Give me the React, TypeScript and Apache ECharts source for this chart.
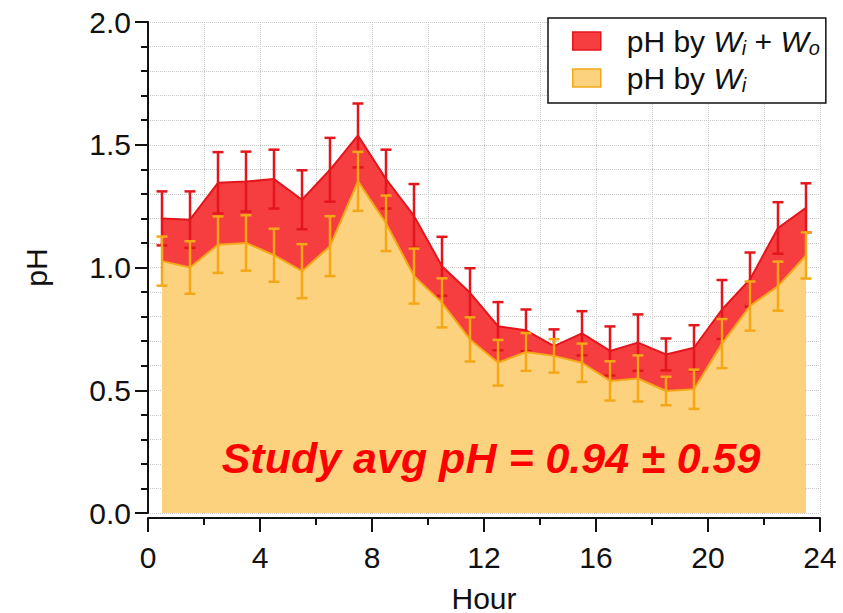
import React, { useEffect, useRef } from "react";
import * as echarts from "echarts";

const hours = [0.5, 1.5, 2.5, 3.5, 4.5, 5.5, 6.5, 7.5, 8.5, 9.5, 10.5, 11.5, 12.5, 13.5, 14.5, 15.5, 16.5, 17.5, 18.5, 19.5, 20.5, 21.5, 22.5, 23.5];
const phWiWo = [1.2, 1.195, 1.345, 1.35, 1.36, 1.276, 1.398, 1.538, 1.36, 1.21, 1.005, 0.897, 0.761, 0.744, 0.68, 0.732, 0.66, 0.694, 0.646, 0.673, 0.829, 0.951, 1.161, 1.243];
const errWiWo = [0.11, 0.115, 0.125, 0.122, 0.12, 0.12, 0.13, 0.13, 0.12, 0.13, 0.12, 0.1, 0.098, 0.085, 0.068, 0.09, 0.1, 0.115, 0.065, 0.092, 0.12, 0.11, 0.105, 0.1];
const phWi = [1.026, 1.0, 1.093, 1.1, 1.05, 0.985, 1.087, 1.351, 1.18, 0.965, 0.856, 0.707, 0.612, 0.656, 0.64, 0.612, 0.538, 0.548, 0.497, 0.504, 0.69, 0.843, 0.924, 1.049];
const errWi = [0.1, 0.107, 0.115, 0.113, 0.108, 0.11, 0.122, 0.12, 0.113, 0.112, 0.1, 0.09, 0.093, 0.077, 0.068, 0.078, 0.08, 0.094, 0.058, 0.08, 0.1, 0.1, 0.1, 0.094];
const annotation = "Study avg pH = 0.94 ± 0.59";

const RED_LINE = "#e3161c";
const RED_AREA = "#f63d40";
const OR_LINE = "#f4a818";
const OR_AREA = "#fdd27f";
const FONT = "Liberation Sans, Arial, sans-serif";

function errSeries(name: string, vals: number[], errs: number[], color: string, z: number) {
  return {
    type: "custom",
    name,
    z,
    silent: true,
    data: hours.map((h, i) => [h, vals[i], errs[i]]),
    encode: { x: 0, y: 1 },
    renderItem: (params: any, api: any) => {
      const x = api.value(0);
      const y = api.value(1);
      const e = api.value(2);
      const top = api.coord([x, y + e]);
      const bot = api.coord([x, y - e]);
      const hw = 5.5;
      const style = { stroke: color, lineWidth: 2.5 };
      return {
        type: "group",
        children: [
          { type: "line", shape: { x1: top[0], y1: top[1], x2: bot[0], y2: bot[1] }, style },
          { type: "line", shape: { x1: top[0] - hw, y1: top[1], x2: top[0] + hw, y2: top[1] }, style },
          { type: "line", shape: { x1: bot[0] - hw, y1: bot[1], x2: bot[0] + hw, y2: bot[1] }, style },
        ],
      };
    },
  };
}

export default function App() {
  const ref = useRef<HTMLDivElement>(null);
  useEffect(() => {
    if (!ref.current) return;
    const chart = echarts.init(ref.current, undefined, { renderer: "svg" });
    const gridLine = { show: true, lineStyle: { type: "dotted", color: "#c8c8c8", width: 1 } };
    const axisText = { fontSize: 30, color: "#111", fontFamily: FONT };
    const legendRich = {
      n: { fontSize: 30, fontFamily: FONT, color: "#111" },
      w: { fontSize: 30, fontFamily: FONT, fontStyle: "italic", color: "#111" },
      s: { fontSize: 20, fontFamily: FONT, fontStyle: "italic", color: "#111", padding: [14, 0, 0, 0] },
    };
    chart.setOption({
      animation: false,
      backgroundColor: "#fff",
      grid: { left: 148, right: 23, top: 22, bottom: 100, containLabel: false, outerBoundsMode: "none" },
      xAxis: {
        type: "value",
        min: 0,
        max: 24,
        interval: 4,
        offset: 5,
        axisLine: { show: true, onZero: false, lineStyle: { color: "#111", width: 2 } },
        axisTick: { show: true, length: 14, lineStyle: { color: "#111", width: 2 } },
        minorTick: { show: true, splitNumber: 2, length: 7, lineStyle: { color: "#111", width: 2 } },
        splitLine: gridLine,
        minorSplitLine: gridLine,
        axisLabel: { ...axisText, margin: 24 },
        name: "Hour",
        nameLocation: "middle",
        nameGap: 65,
        nameTextStyle: { ...axisText },
      },
      yAxis: {
        type: "value",
        min: 0,
        max: 2,
        interval: 0.5,
        offset: 3,
        axisLine: { show: true, lineStyle: { color: "#111", width: 2 } },
        axisTick: { show: true, length: 13, lineStyle: { color: "#111", width: 2 } },
        minorTick: { show: true, splitNumber: 5, length: 7, lineStyle: { color: "#111", width: 2 } },
        splitLine: gridLine,
        minorSplitLine: gridLine,
        axisLabel: { ...axisText, margin: 14, formatter: (v: number) => v.toFixed(1) },
        name: "pH",
        nameLocation: "middle",
        nameGap: 94,
        nameTextStyle: { ...axisText },
      },
      legend: {
        orient: "vertical",
        left: 548,
        top: 18,
        backgroundColor: "#fff",
        borderColor: "#111",
        borderWidth: 1.5,
        borderRadius: 0,
        padding: [8, 6, 8, 24],
        itemGap: 5,
        itemWidth: 28,
        itemHeight: 18,
        icon: "rect",
        textStyle: { rich: legendRich, padding: [0, 0, 0, 21] },
        formatter: (name: string) =>
          name === "wiwo" ? "{n|pH by }{w|W}{s|i}{n| + }{w|W}{s|o}" : "{n|pH by }{w|W}{s|i}",
        data: [
          { name: "wiwo", itemStyle: { color: RED_AREA, borderColor: RED_LINE, borderWidth: 1.5 } },
          { name: "wi", itemStyle: { color: OR_AREA, borderColor: OR_LINE, borderWidth: 1.5 } },
        ],
      },
      graphic: [
        {
          type: "text",
          z: 100,
          x: 491,
          y: 458,
          style: {
            text: annotation,
            fill: "#ff0000",
            font: `italic bold 43px ${FONT}`,
            textAlign: "center",
            textVerticalAlign: "middle",
          },
        },
      ],
      series: [
        {
          type: "line",
          name: "wiwo",
          z: 1,
          data: hours.map((h, i) => [h, phWiWo[i]]),
          symbol: "none",
          lineStyle: { color: RED_LINE, width: 2 },
          itemStyle: { color: RED_AREA },
          areaStyle: { color: RED_AREA, opacity: 1 },
        },
        errSeries("wiwoErr", phWiWo, errWiWo, RED_LINE, 2),
        {
          type: "line",
          name: "wi",
          z: 3,
          data: hours.map((h, i) => [h, phWi[i]]),
          symbol: "none",
          lineStyle: { color: OR_LINE, width: 2 },
          itemStyle: { color: OR_AREA },
          areaStyle: { color: OR_AREA, opacity: 1 },
        },
        errSeries("wiErr", phWi, errWi, OR_LINE, 4),
      ],
    });
    return () => chart.dispose();
  }, []);
  return <div ref={ref} style={{ width: 843, height: 613, position: "absolute", left: 0, top: 0 }} />;
}
